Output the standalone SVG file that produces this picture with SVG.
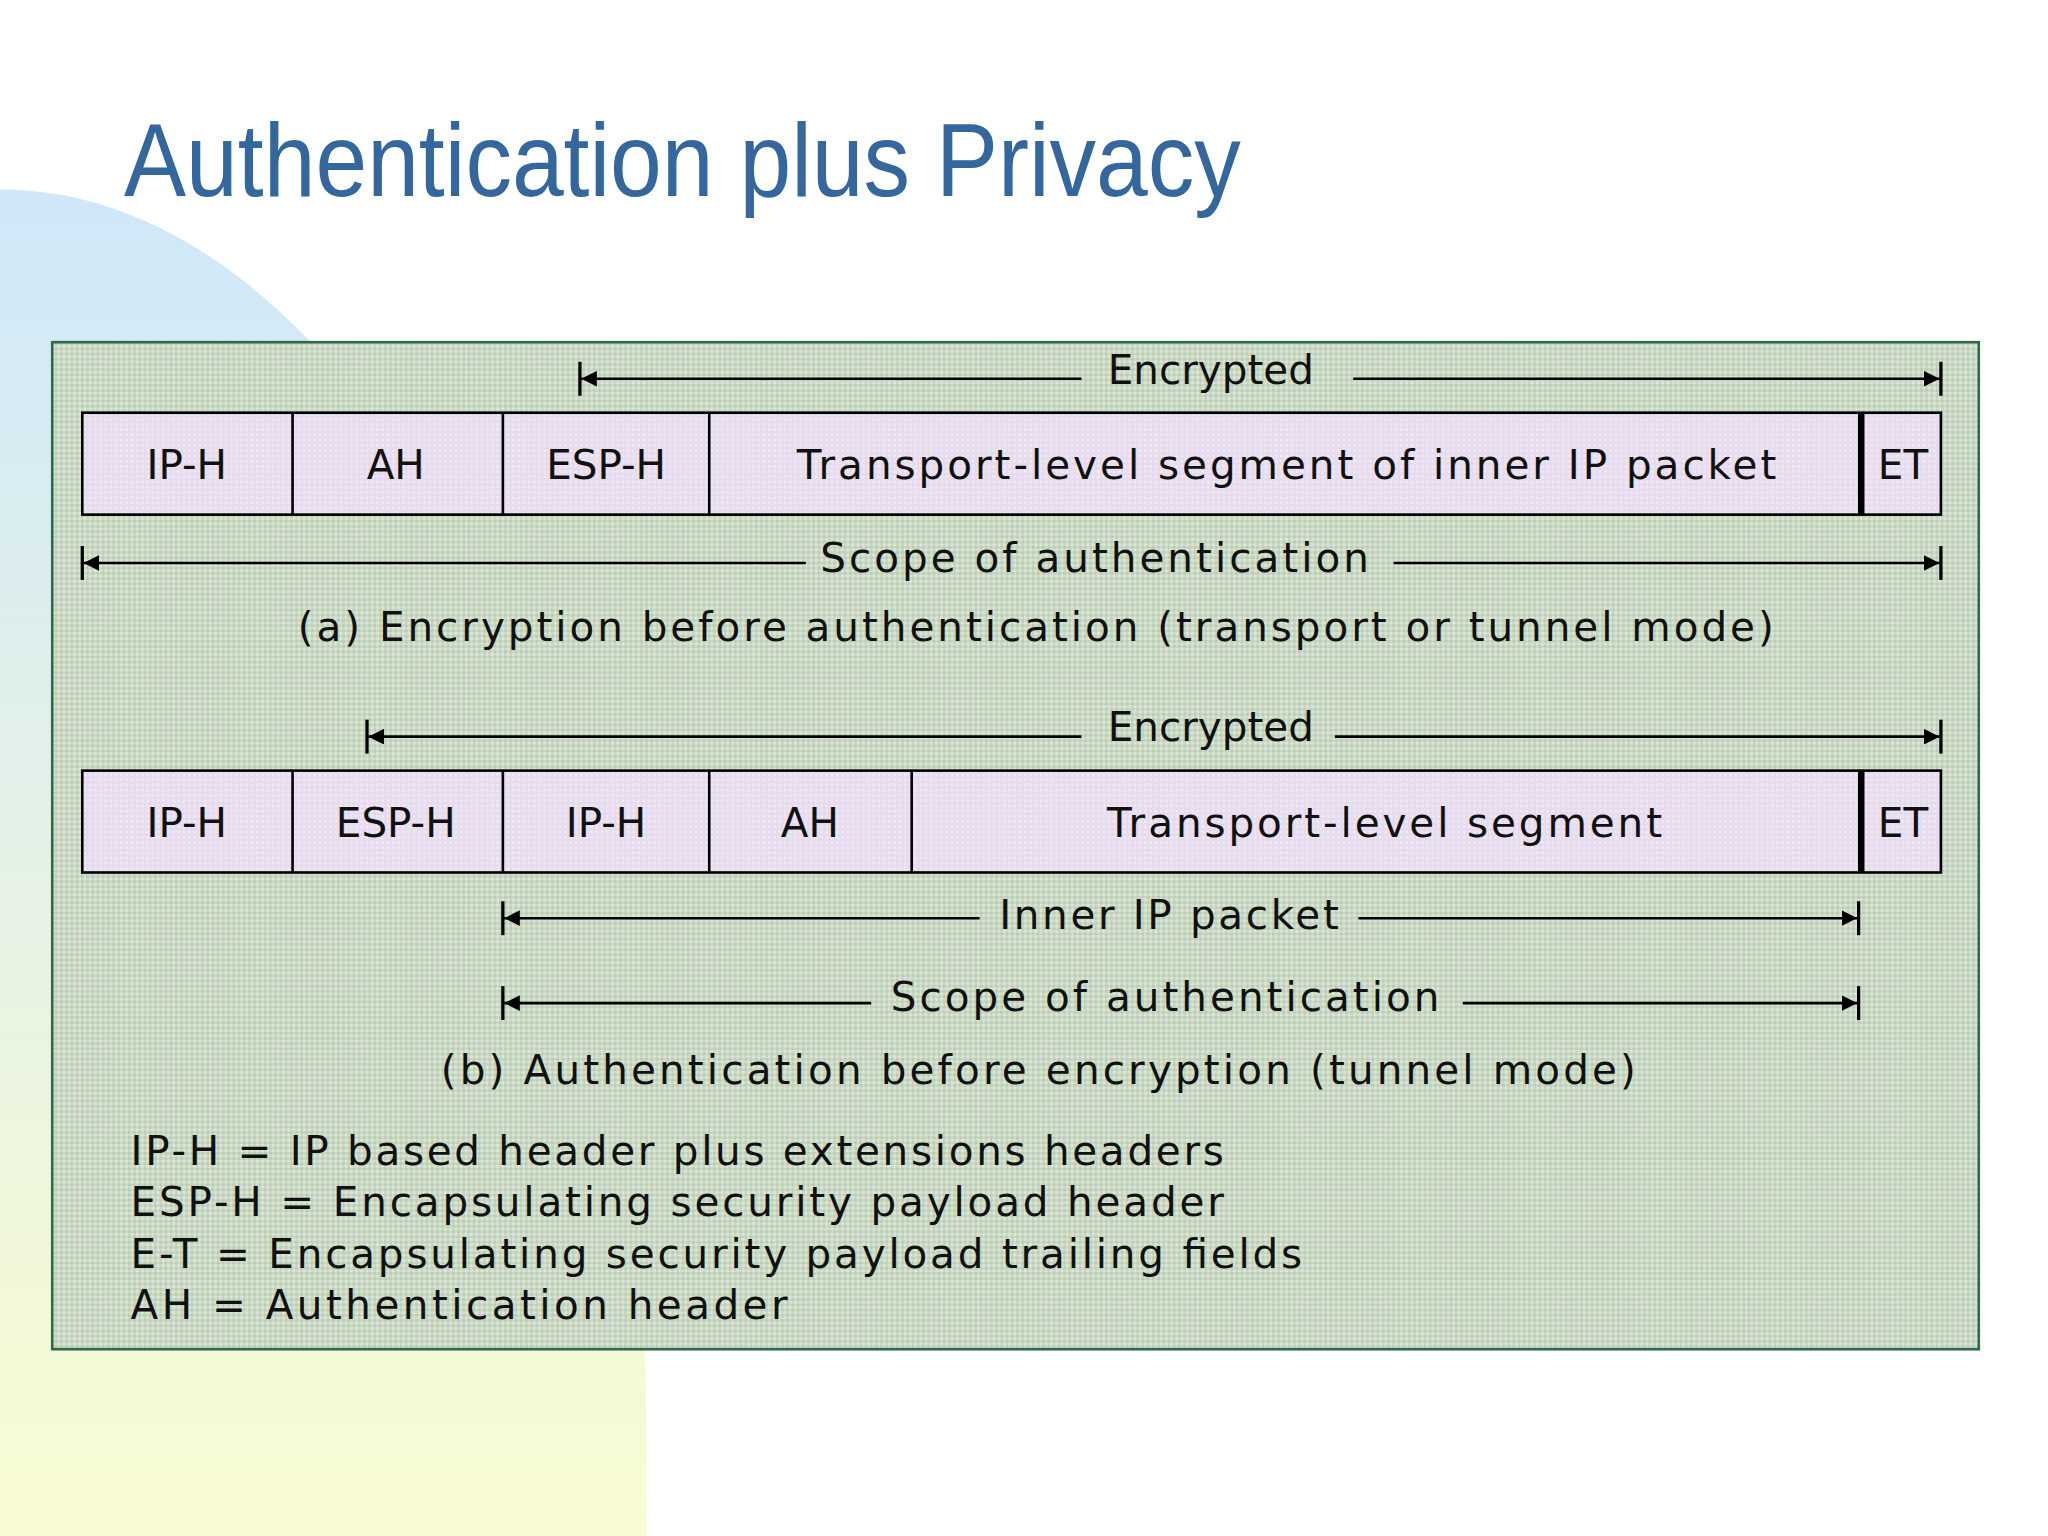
<svg xmlns="http://www.w3.org/2000/svg" width="2048" height="1536" viewBox="0 0 2048 1536">
<defs>
<linearGradient id="bg" x1="0" y1="0" x2="0" y2="1"><stop offset="0" stop-color="#cfe7f9"/><stop offset="1" stop-color="#f9fcd2"/></linearGradient>
<pattern id="hatch" width="4" height="4" patternUnits="userSpaceOnUse"><rect width="4" height="4" fill="#c9d9c3"/><rect width="2" height="2" fill="#dde6d6"/><rect x="2" y="2" width="2" height="2" fill="#bccdb6"/></pattern>
<pattern id="lav" width="4" height="4" patternUnits="userSpaceOnUse"><rect width="4" height="4" fill="#e6dcee"/><rect width="2" height="2" fill="#f0e8f5"/></pattern>
<marker id="ah" viewBox="0 0 10 10" refX="10" refY="5" markerWidth="12" markerHeight="12" markerUnits="userSpaceOnUse" orient="auto-start-reverse"><path d="M0,0 L10,5 L0,10 z" fill="#000"/></marker>
<style>
.t{font-family:"DejaVu Sans",sans-serif;font-size:31px;fill:#111}
.box{fill:url(#lav);stroke:#000;stroke-width:2}
.ln{stroke:#000;stroke-width:2;fill:none}
.tk{stroke:#000;stroke-width:2.5}
</style>
</defs>
<g transform="scale(1.306122)">
<path d="M0,145 A495,950 0 0 1 495,1095 L495,1176 L0,1176 Z" fill="url(#bg)"/>
<text x="95" y="150" font-family="Liberation Sans, Arial, sans-serif" font-size="80" fill="#33679e" textLength="855" lengthAdjust="spacingAndGlyphs">Authentication plus Privacy</text>
<rect id="panel" x="40" y="262" width="1475" height="771" fill="url(#hatch)" stroke="#2f6a4a" stroke-width="2"/>
<g id="rowA">
<rect class="box" x="63" y="316" width="1423" height="78"/>
<line class="ln" x1="224" y1="316" x2="224" y2="394"/><line class="ln" x1="385" y1="316" x2="385" y2="394"/><line class="ln" x1="543" y1="316" x2="543" y2="394"/><line x1="1425" y1="316" x2="1425" y2="394" stroke="#000" stroke-width="5"/>
<text class="t" x="143" y="367" text-anchor="middle">IP-H</text>
<text class="t" x="303" y="367" text-anchor="middle">AH</text>
<text class="t" x="464" y="367" text-anchor="middle">ESP-H</text>
<text class="t" x="985" y="367" text-anchor="middle" textLength="750">Transport-level segment of inner IP packet</text>
<text class="t" x="1457" y="367" text-anchor="middle">ET</text>
</g>
<g id="rowB">
<rect class="box" x="63" y="590" width="1423" height="78"/>
<line class="ln" x1="224" y1="590" x2="224" y2="668"/><line class="ln" x1="385" y1="590" x2="385" y2="668"/><line class="ln" x1="543" y1="590" x2="543" y2="668"/><line class="ln" x1="698" y1="590" x2="698" y2="668"/><line x1="1425" y1="590" x2="1425" y2="668" stroke="#000" stroke-width="5"/>
<text class="t" x="143" y="641" text-anchor="middle">IP-H</text>
<text class="t" x="303" y="641" text-anchor="middle">ESP-H</text>
<text class="t" x="464" y="641" text-anchor="middle">IP-H</text>
<text class="t" x="620" y="641" text-anchor="middle">AH</text>
<text class="t" x="1060" y="641" text-anchor="middle" textLength="425">Transport-level segment</text>
<text class="t" x="1457" y="641" text-anchor="middle">ET</text>
</g>
<g id="connectors">
<line class="tk" x1="444" y1="277" x2="444" y2="303"/><line class="tk" x1="1486" y1="277" x2="1486" y2="303"/>
<line class="ln" x1="445" y1="290" x2="828" y2="290" marker-start="url(#ah)"/><line class="ln" x1="1036" y1="290" x2="1485" y2="290" marker-end="url(#ah)"/>
<line class="tk" x1="63" y1="418" x2="63" y2="444"/><line class="tk" x1="1486" y1="418" x2="1486" y2="444"/>
<line class="ln" x1="64" y1="431" x2="617" y2="431" marker-start="url(#ah)"/><line class="ln" x1="1067" y1="431" x2="1485" y2="431" marker-end="url(#ah)"/>
<line class="tk" x1="281" y1="551" x2="281" y2="577"/><line class="tk" x1="1486" y1="551" x2="1486" y2="577"/>
<line class="ln" x1="282" y1="564" x2="828" y2="564" marker-start="url(#ah)"/><line class="ln" x1="1022" y1="564" x2="1485" y2="564" marker-end="url(#ah)"/>
<line class="tk" x1="385" y1="690" x2="385" y2="716"/><line class="tk" x1="1423" y1="690" x2="1423" y2="716"/>
<line class="ln" x1="386" y1="703" x2="750" y2="703" marker-start="url(#ah)"/><line class="ln" x1="1040" y1="703" x2="1422" y2="703" marker-end="url(#ah)"/>
<line class="tk" x1="385" y1="755" x2="385" y2="781"/><line class="tk" x1="1423" y1="755" x2="1423" y2="781"/>
<line class="ln" x1="386" y1="768" x2="667" y2="768" marker-start="url(#ah)"/><line class="ln" x1="1120" y1="768" x2="1422" y2="768" marker-end="url(#ah)"/>
</g>
<g id="labels">
<text class="t" x="927" y="294" text-anchor="middle">Encrypted</text>
<text class="t" x="838" y="438" text-anchor="middle" textLength="420">Scope of authentication</text>
<text class="t" x="793" y="491" text-anchor="middle" textLength="1130">(a) Encryption before authentication (transport or tunnel mode)</text>
<text class="t" x="927" y="567" text-anchor="middle">Encrypted</text>
<text class="t" x="895" y="711" text-anchor="middle" textLength="260">Inner IP packet</text>
<text class="t" x="892" y="774" text-anchor="middle" textLength="420">Scope of authentication</text>
<text class="t" x="795" y="830" text-anchor="middle" textLength="915">(b) Authentication before encryption (tunnel mode)</text>
<text class="t" x="100" y="892" textLength="837">IP-H = IP based header plus extensions headers</text>
<text class="t" x="100" y="931" textLength="837">ESP-H = Encapsulating security payload header</text>
<text class="t" x="100" y="971" textLength="897">E-T = Encapsulating security payload trailing fields</text>
<text class="t" x="100" y="1010" textLength="503">AH = Authentication header</text>
</g>
</g>
</svg>
